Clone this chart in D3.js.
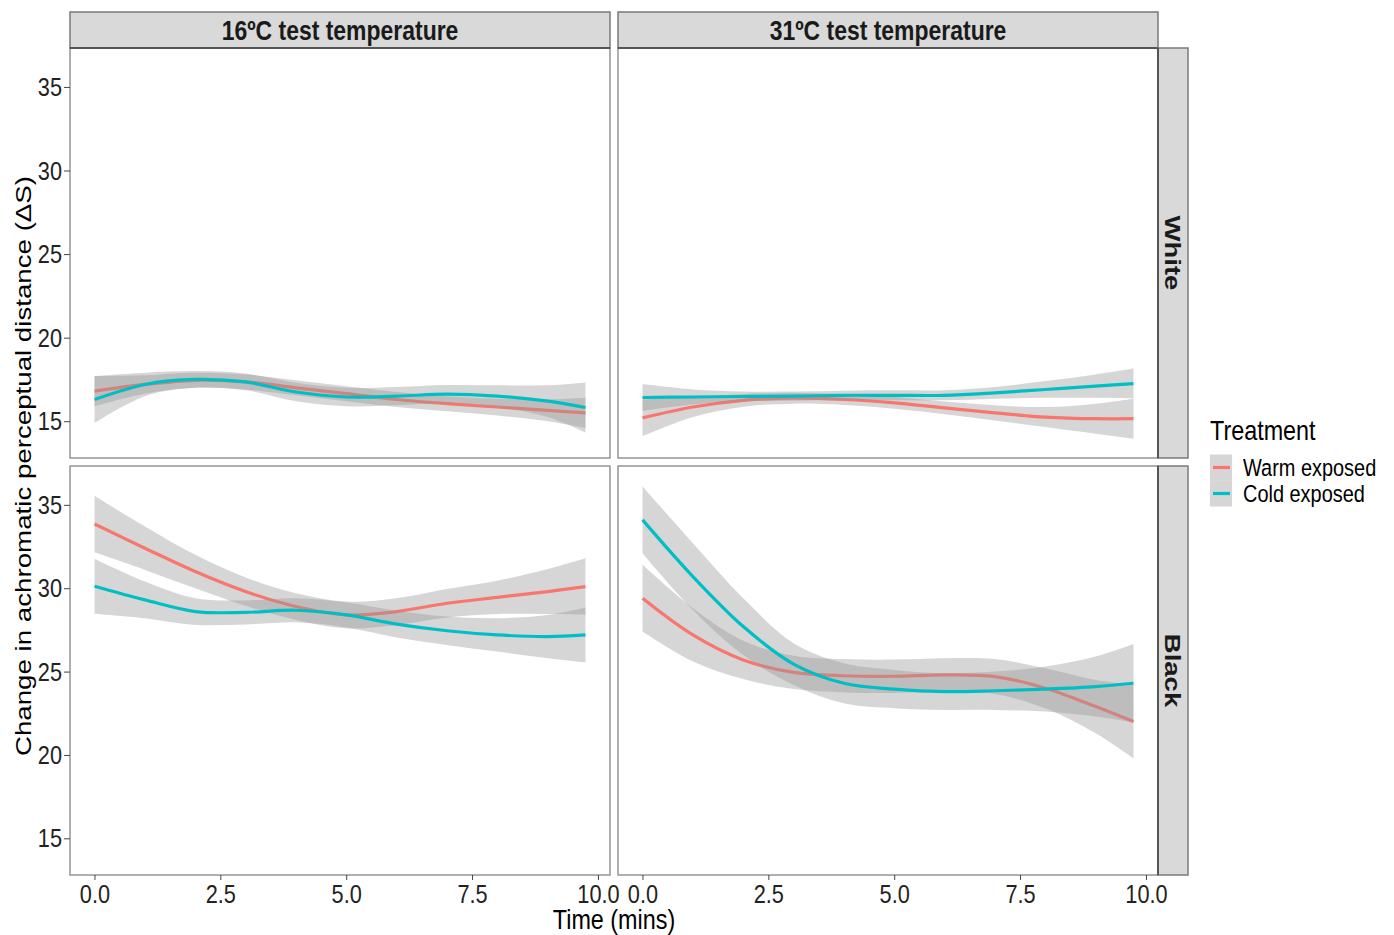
<!DOCTYPE html>
<html>
  <head>
    <meta charset="utf-8">
    <title></title>
    <style>
      body { margin: 0; background: #fff; }
      svg text { font-family: "Liberation Sans", Arial, sans-serif; }
    </style>
  </head>
  <body>
    <script src="https://cdn.jsdelivr.net/npm/d3@7"></script>
    <script>
      // smoothed fits (loess), with half-width of the confidence band
      var times = [0, 1, 2, 3, 4, 5, 6, 7, 8, 9, 9.75];

      var w16Warm   = [16.8, 17.2, 17.45, 17.35, 17.0, 16.65, 16.3, 16.05, 15.85, 15.65, 15.5];
      var w16WarmSE = [0.9, 0.55, 0.45, 0.45, 0.45, 0.45, 0.45, 0.45, 0.5, 0.65, 0.9];
      var w16Cold   = [16.3, 17.2, 17.5, 17.35, 16.75, 16.45, 16.5, 16.62, 16.5, 16.2, 15.82];
      var w16ColdSE = [1.4, 0.7, 0.5, 0.5, 0.55, 0.55, 0.55, 0.55, 0.65, 0.95, 1.5];

      var w31Warm   = [15.2, 15.85, 16.25, 16.38, 16.3, 16.1, 15.8, 15.5, 15.25, 15.15, 15.15];
      var w31WarmSE = [1.1, 0.6, 0.38, 0.33, 0.33, 0.35, 0.38, 0.45, 0.6, 0.9, 1.2];
      var w31Cold   = [16.42, 16.45, 16.48, 16.5, 16.55, 16.55, 16.55, 16.7, 16.9, 17.1, 17.25];
      var w31ColdSE = [0.8, 0.45, 0.3, 0.28, 0.28, 0.3, 0.3, 0.35, 0.5, 0.7, 0.9];

      var b16Warm   = [33.85, 32.4, 31.0, 29.8, 28.9, 28.4, 28.6, 29.1, 29.45, 29.8, 30.1];
      var b16WarmSE = [1.7, 1.3, 1.0, 0.85, 0.8, 0.8, 0.8, 0.85, 1.0, 1.35, 1.7];
      var b16Cold   = [30.12, 29.3, 28.6, 28.55, 28.68, 28.4, 27.85, 27.45, 27.2, 27.1, 27.2];
      var b16ColdSE = [1.65, 1.1, 0.8, 0.72, 0.72, 0.75, 0.8, 0.85, 1.0, 1.3, 1.65];

      var b31Warm   = [29.4, 27.2, 25.7, 24.95, 24.75, 24.72, 24.8, 24.7, 24.0, 22.9, 22.0];
      var b31WarmSE = [2.0, 1.6, 1.15, 1.0, 1.0, 1.0, 1.0, 1.05, 1.2, 1.6, 2.2];
      var b31Cold   = [34.1, 30.7, 27.7, 25.45, 24.3, 23.95, 23.8, 23.85, 23.95, 24.1, 24.3];
      var b31ColdSE = [2.0, 2.0, 1.7, 1.25, 1.2, 1.15, 1.1, 1.15, 1.35, 1.8, 2.35];

      var colLabels = ['16ºC test temperature', '31ºC test temperature'];
      var rowLabels = ['White', 'Black'];
      var treatments = ['Warm exposed', 'Cold exposed'];
      var colors = ['#F8766D', '#00BFC4'];
      var yTicks = [15, 20, 25, 30, 35];
      var xTicks = [0, 2.5, 5, 7.5, 10];

      var width = 1394, height = 935,
        sx = 0.82; // the original figure is squeezed horizontally

      function X(px) { return px / sx; }

      var svg = d3.select('body').append('svg')
        .attr('width', width)
        .attr('height', height)
        .attr('viewBox', '0 0 ' + (width / sx) + ' ' + height)
        .attr('preserveAspectRatio', 'none');

      var colPos = [[70, 610], [618, 1158]];
      var rowPos = [[48, 458], [466, 875]];

      var panels = [
        { r: 0, c: 0, series: [[w16Warm, w16WarmSE], [w16Cold, w16ColdSE]] },
        { r: 0, c: 1, series: [[w31Warm, w31WarmSE], [w31Cold, w31ColdSE]] },
        { r: 1, c: 0, series: [[b16Warm, b16WarmSE], [b16Cold, b16ColdSE]] },
        { r: 1, c: 1, series: [[b31Warm, b31WarmSE], [b31Cold, b31ColdSE]] }
      ];

      panels.forEach(function(p) {
        var x = d3.scaleLinear().domain([-0.4875, 10.2375]).range([X(colPos[p.c][0]), X(colPos[p.c][1])]);
        var y = d3.scaleLinear().domain([12.8, 37.33]).range([rowPos[p.r][1], rowPos[p.r][0]]);
        var g = svg.append('g');

        g.append('rect')
          .attr('x', x.range()[0]).attr('y', y.range()[1])
          .attr('width', x.range()[1] - x.range()[0])
          .attr('height', y.range()[0] - y.range()[1])
          .attr('fill', '#fff');

        p.series.forEach(function(s, k) {
          var pts = times.map(function(t, i) { return { t: t, v: s[0][i], se: s[1][i] }; });
          var area = d3.area()
            .x(function(d) { return x(d.t); })
            .y0(function(d) { return y(d.v - d.se); })
            .y1(function(d) { return y(d.v + d.se); })
            .curve(d3.curveCatmullRom);
          var line = d3.line()
            .x(function(d) { return x(d.t); })
            .y(function(d) { return y(d.v); })
            .curve(d3.curveCatmullRom);
          g.append('path').datum(pts)
            .attr('d', area)
            .attr('fill', '#999999')
            .attr('fill-opacity', 0.4);
          g.append('path').datum(pts)
            .attr('d', line)
            .attr('fill', 'none')
            .attr('stroke', colors[k])
            .attr('stroke-width', 3.2)
            .attr('vector-effect', 'non-scaling-stroke');
        });

        g.append('rect')
          .attr('x', x.range()[0]).attr('y', y.range()[1])
          .attr('width', x.range()[1] - x.range()[0])
          .attr('height', y.range()[0] - y.range()[1])
          .attr('fill', 'none')
          .attr('stroke', '#959595')
          .attr('stroke-width', 1.5)
          .attr('vector-effect', 'non-scaling-stroke');

        if (p.c === 0) {
          var ya = svg.append('g')
            .attr('transform', 'translate(' + x.range()[0] + ',0)')
            .call(d3.axisLeft(y).tickValues(yTicks).tickSize(X(6)).tickPadding(X(2)));
          ya.select('.domain').remove();
          ya.selectAll('line').attr('stroke', '#444').attr('vector-effect', 'non-scaling-stroke');
          ya.selectAll('text').attr('font-size', 26.5).attr('fill', '#222')
            .attr('font-family', '"Liberation Sans", Arial, sans-serif');
        }
        if (p.r === 1) {
          var xa = svg.append('g')
            .attr('transform', 'translate(0,' + y.range()[0] + ')')
            .call(d3.axisBottom(x).tickValues(xTicks).tickFormat(d3.format('.1f')).tickSize(5).tickPadding(4));
          xa.select('.domain').remove();
          xa.selectAll('line').attr('stroke', '#444').attr('vector-effect', 'non-scaling-stroke');
          xa.selectAll('text').attr('font-size', 26.5).attr('fill', '#222')
            .attr('font-family', '"Liberation Sans", Arial, sans-serif');
        }
      });

      // column strips
      colLabels.forEach(function(lab, c) {
        svg.append('rect')
          .attr('x', X(colPos[c][0])).attr('y', 12)
          .attr('width', X(colPos[c][1] - colPos[c][0])).attr('height', 36)
          .attr('fill', '#d9d9d9').attr('stroke', '#7a7a7a').attr('stroke-width', 1.5)
          .attr('vector-effect', 'non-scaling-stroke');
        svg.append('line')
          .attr('x1', X(colPos[c][0])).attr('x2', X(colPos[c][1]))
          .attr('y1', 48).attr('y2', 48)
          .attr('stroke', '#555').attr('stroke-width', 2)
          .attr('vector-effect', 'non-scaling-stroke');
        svg.append('text')
          .attr('x', X((colPos[c][0] + colPos[c][1]) / 2)).attr('y', 40)
          .attr('text-anchor', 'middle')
          .attr('font-size', 28).attr('font-weight', 'bold').attr('fill', '#1a1a1a')
          .text(lab);
      });

      // row strips
      rowLabels.forEach(function(lab, r) {
        svg.append('rect')
          .attr('x', X(1158)).attr('y', rowPos[r][0])
          .attr('width', X(30)).attr('height', rowPos[r][1] - rowPos[r][0])
          .attr('fill', '#d9d9d9').attr('stroke', '#7a7a7a').attr('stroke-width', 1.5)
          .attr('vector-effect', 'non-scaling-stroke');
        svg.append('line')
          .attr('x1', X(1158)).attr('x2', X(1158))
          .attr('y1', rowPos[r][0]).attr('y2', rowPos[r][1])
          .attr('stroke', '#555').attr('stroke-width', 2)
          .attr('vector-effect', 'non-scaling-stroke');
        var cy = (rowPos[r][0] + rowPos[r][1]) / 2;
        svg.append('text')
          .attr('transform', 'translate(' + X(1173) + ',' + cy + ') rotate(90)')
          .attr('text-anchor', 'middle')
          .attr('dominant-baseline', 'central')
          .attr('font-size', 27.5).attr('font-weight', 'bold').attr('fill', '#1a1a1a')
          .text(lab);
      });

      // axis titles
      svg.append('text')
        .attr('x', X(614)).attr('y', 929)
        .attr('text-anchor', 'middle')
        .attr('font-size', 28.5).attr('fill', '#000')
        .text('Time (mins)');
      svg.append('text')
        .attr('transform', 'translate(' + X(31) + ',' + 466 + ') rotate(-90)')
        .attr('text-anchor', 'middle')
        .attr('font-size', 27.7).attr('fill', '#000')
        .text('Change in achromatic perceptual distance (ΔS)');

      // legend
      var leg = svg.append('g');
      leg.append('text')
        .attr('x', X(1210)).attr('y', 440)
        .attr('font-size', 28.5).attr('fill', '#000')
        .text('Treatment');
      treatments.forEach(function(t, i) {
        var cy = 467.5 + i * 26;
        leg.append('rect')
          .attr('x', X(1210)).attr('y', cy - 13)
          .attr('width', X(22)).attr('height', 26)
          .attr('fill', '#999999').attr('fill-opacity', 0.4);
        leg.append('line')
          .attr('x1', X(1213)).attr('x2', X(1230))
          .attr('y1', cy).attr('y2', cy)
          .attr('stroke', colors[i]).attr('stroke-width', 3.2)
          .attr('vector-effect', 'non-scaling-stroke');
        leg.append('text')
          .attr('x', X(1243)).attr('y', cy + 8.5)
          .attr('font-size', 24.3).attr('fill', '#000')
          .text(t);
      });
    </script>
  </body>
</html>
